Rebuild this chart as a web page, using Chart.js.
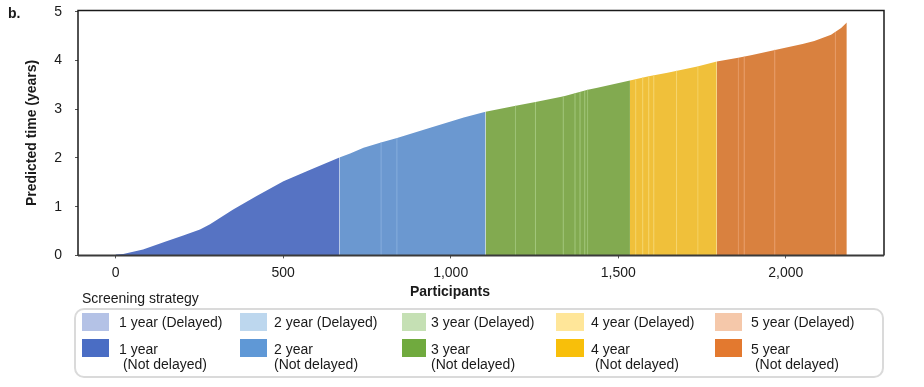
<!DOCTYPE html>
<html>
<head>
<meta charset="utf-8">
<script src="https://cdn.jsdelivr.net/npm/chart.js@4.4.1/dist/chart.umd.min.js"></script>
<style>
  html, body { margin: 0; padding: 0; background: #fff; }
  #wrap { position: relative; width: 924px; height: 387px; overflow: hidden; font-family: 'Liberation Sans', Arial, sans-serif; color: #1a1a1a; }
  #c { position: absolute; left: 0; top: 0; }
  .abs { position: absolute; white-space: nowrap; font-size: 14px; line-height: 16px; }
  #panel { left: 8px; top: 5px; font-weight: bold; font-size: 14px; }
  #xtitle { left: 450px; top: 283px; transform: translateX(-50%); font-weight: bold; }
  #strat { left: 82px; top: 290px; }
  #legend { position: absolute; left: 74px; top: 308px; width: 806px; height: 66px; border: 2px solid #dadada; border-radius: 10px; }
  .sw { position: absolute; height: 18px; }
  .lt { position: absolute; font-size: 14px; line-height: 15.7px; white-space: pre; }
</style>
</head>
<body>
<div id="wrap">
  <canvas id="c" width="924" height="387"></canvas>
  <div class="abs" id="panel">b.</div>
  <div class="abs" id="xtitle">Participants</div>
  <div class="abs" id="strat">Screening strategy</div>
  <div id="legend"></div>
</div>
<script>
// ---- data ----
const participants = [0, 23, 82, 152, 202, 252, 282, 351, 421, 501, 581, 668, 700, 740, 792, 840, 939, 1039, 1104, 1198, 1253, 1338, 1409, 1438, 1535, 1591, 1647, 1736, 1794, 1858, 1896, 1995, 2050, 2085, 2135, 2165, 2182];
const predictedYears = [0.02, 0.03, 0.12, 0.29, 0.41, 0.53, 0.64, 0.94, 1.22, 1.52, 1.76, 2.01, 2.09, 2.21, 2.32, 2.41, 2.62, 2.83, 2.95, 3.08, 3.15, 3.27, 3.40, 3.44, 3.59, 3.68, 3.75, 3.88, 3.98, 4.06, 4.11, 4.26, 4.34, 4.40, 4.53, 4.67, 4.78];
const strategyStart = [0, 668, 1104, 1535, 1794];
const strategyEnd = [668, 1104, 1535, 1794, 2182];
const strategies = ['1 year', '2 year', '3 year', '4 year', '5 year'];
// delayed participants (light stripes) per strategy
const delayedParticipants = [[], [792, 840], [1193, 1253, 1336, 1371, 1386, 1400, 1409], [1552, 1573, 1591, 1606, 1674, 1738], [1858, 1876, 1967, 2148]];
const delayedYears = [[], [2.32, 2.41], [3.07, 3.15, 3.27, 3.33, 3.35, 3.37, 3.40], [3.61, 3.65, 3.68, 3.70, 3.79, 3.88], [4.05, 4.08, 4.22, 4.58]];
const xTicks = [0, 500, 1000, 1500, 2000];
const xTickLabels = ['0', '500', '1,000', '1,500', '2,000'];
const yTicks = [0, 1, 2, 3, 4, 5];

// ---- styles ----
const fillColors = ['#5673c3', '#6b98d0', '#82aa50', '#f0c03a', '#d9813f'];
const stripeColors = ['#9fb3e2', '#8fb4e0', '#a3c77c', '#f6d670', '#e9a06e'];
const legendDelayed = ['#b4c2e6', '#bdd7ee', '#c5e0b4', '#ffe699', '#f5c8aa'];
const legendNotDelayed = ['#4a6dc4', '#5f98d6', '#70aa3e', '#f8bf0a', '#e3792f'];

const datasets = [];
strategies.forEach((s, i) => {
  const pts = [];
  participants.forEach((p, k) => {
    if (p >= strategyStart[i] && p <= strategyEnd[i]) pts.push({x: p, y: predictedYears[k]});
  });
  datasets.push({
    label: s + ' (Not delayed)', data: pts, fill: 'origin',
    backgroundColor: fillColors[i], borderWidth: 0, borderColor: 'transparent',
    pointRadius: 0, tension: 0, order: 2
  });
});
strategies.forEach((s, i) => {
  const pts = [];
  delayedParticipants[i].forEach((p, k) => {
    const h = delayedYears[i][k];
    pts.push({x: p - 1.5, y: 0}, {x: p - 1.5, y: h}, {x: p + 1.5, y: h}, {x: p + 1.5, y: 0});
  });
  datasets.push({
    label: s + ' (Delayed)', data: pts, fill: 'origin',
    backgroundColor: stripeColors[i], borderWidth: 0, borderColor: 'transparent',
    pointRadius: 0, tension: 0, order: 1
  });
});

const frame = {
  id: 'frame',
  afterDraw(chart) {
    const {ctx, chartArea: a} = chart;
    ctx.save();
    ctx.strokeStyle = '#1a1a1a';
    ctx.lineWidth = 1.5;
    ctx.beginPath();
    ctx.moveTo(a.left, a.bottom);
    ctx.lineTo(a.left, a.top);
    ctx.lineTo(a.right, a.top);
    ctx.lineTo(a.right, a.bottom);
    ctx.stroke();
    ctx.strokeStyle = '#3a3a3a';
    ctx.lineWidth = 2;
    ctx.beginPath();
    ctx.moveTo(a.left, a.bottom);
    ctx.lineTo(a.right, a.bottom);
    ctx.stroke();
    ctx.restore();
  }
};

Chart.defaults.font.family = "'Liberation Sans', Arial, sans-serif";
Chart.defaults.font.size = 14;
Chart.defaults.color = '#1a1a1a';

const X_AXIS_H = 30, TARGET_TOP = 10.7, TARGET_BOTTOM = 255.7, H = 387;
const canvas = document.getElementById('c');
const chart = new Chart(canvas, {
  type: 'line',
  data: { datasets },
  options: {
    responsive: false, animation: false, devicePixelRatio: 1,
    layout: { padding: { left: 0, top: 0, right: 40, bottom: H - TARGET_BOTTOM - X_AXIS_H } },
    plugins: { legend: { display: false }, tooltip: { enabled: false } },
    elements: { line: { borderWidth: 0 } },
    scales: {
      x: {
        type: 'linear', min: -112, max: 2293,
        afterBuildTicks: sc => { sc.ticks = xTicks.map(v => ({value: v})); },
        afterFit: sc => { sc.height = X_AXIS_H; },
        ticks: { padding: 6, callback: (v) => xTickLabels[xTicks.indexOf(v)], maxRotation: 0, autoSkip: false },
        grid: { drawOnChartArea: false, drawTicks: true, tickLength: 3, color: '#555' },
        border: { display: false }
      },
      y: {
        type: 'linear', min: 0, max: 5.03,
        afterBuildTicks: sc => { sc.ticks = yTicks.map(v => ({value: v})); },
        afterFit: sc => { sc.width = 78; },
        ticks: { padding: 13, callback: v => String(v) },
        grid: { drawOnChartArea: false, drawTicks: true, tickLength: 3, color: '#555' },
        border: { display: false },
        title: { display: true, text: 'Predicted time (years)', font: { weight: 'bold', size: 14 }, padding: { top: 24, bottom: 0 } }
      }
    }
  },
  plugins: [frame]
});
// shift canvas so the plot area sits where the reference has it
const dy = chart.chartArea.top - TARGET_TOP;
canvas.style.top = (-dy) + 'px';
chart.options.layout.padding.bottom = H - (TARGET_BOTTOM + dy) - X_AXIS_H;
chart.update();

// ---- legend (HTML) ----
const lg = document.getElementById('legend');
const swLeft = [82, 240, 402, 556, 715];
const swWidth = [27, 27, 24, 28, 27];
const txLeft = [119, 274, 431, 591, 751];
const indent = [' ', '', '', ' ', ' '];
strategies.forEach((s, i) => {
  const ox = -76, oy = -310;
  const a = document.createElement('div');
  a.className = 'sw'; a.style.left = (swLeft[i] + ox) + 'px'; a.style.top = (313 + oy) + 'px';
  a.style.width = swWidth[i] + 'px'; a.style.background = legendDelayed[i];
  lg.appendChild(a);
  const t1 = document.createElement('div');
  t1.className = 'lt'; t1.style.left = (txLeft[i] + ox) + 'px'; t1.style.top = (315 + oy) + 'px';
  t1.textContent = s + ' (Delayed)';
  lg.appendChild(t1);
  const b = document.createElement('div');
  b.className = 'sw'; b.style.left = (swLeft[i] + ox) + 'px'; b.style.top = (339 + oy) + 'px';
  b.style.width = swWidth[i] + 'px'; b.style.background = legendNotDelayed[i];
  lg.appendChild(b);
  const t2 = document.createElement('div');
  t2.className = 'lt'; t2.style.left = (txLeft[i] + ox) + 'px'; t2.style.top = (341.5 + oy) + 'px';
  t2.textContent = s + '\n' + indent[i] + '(Not delayed)';
  lg.appendChild(t2);
});
</script>
</body>
</html>
